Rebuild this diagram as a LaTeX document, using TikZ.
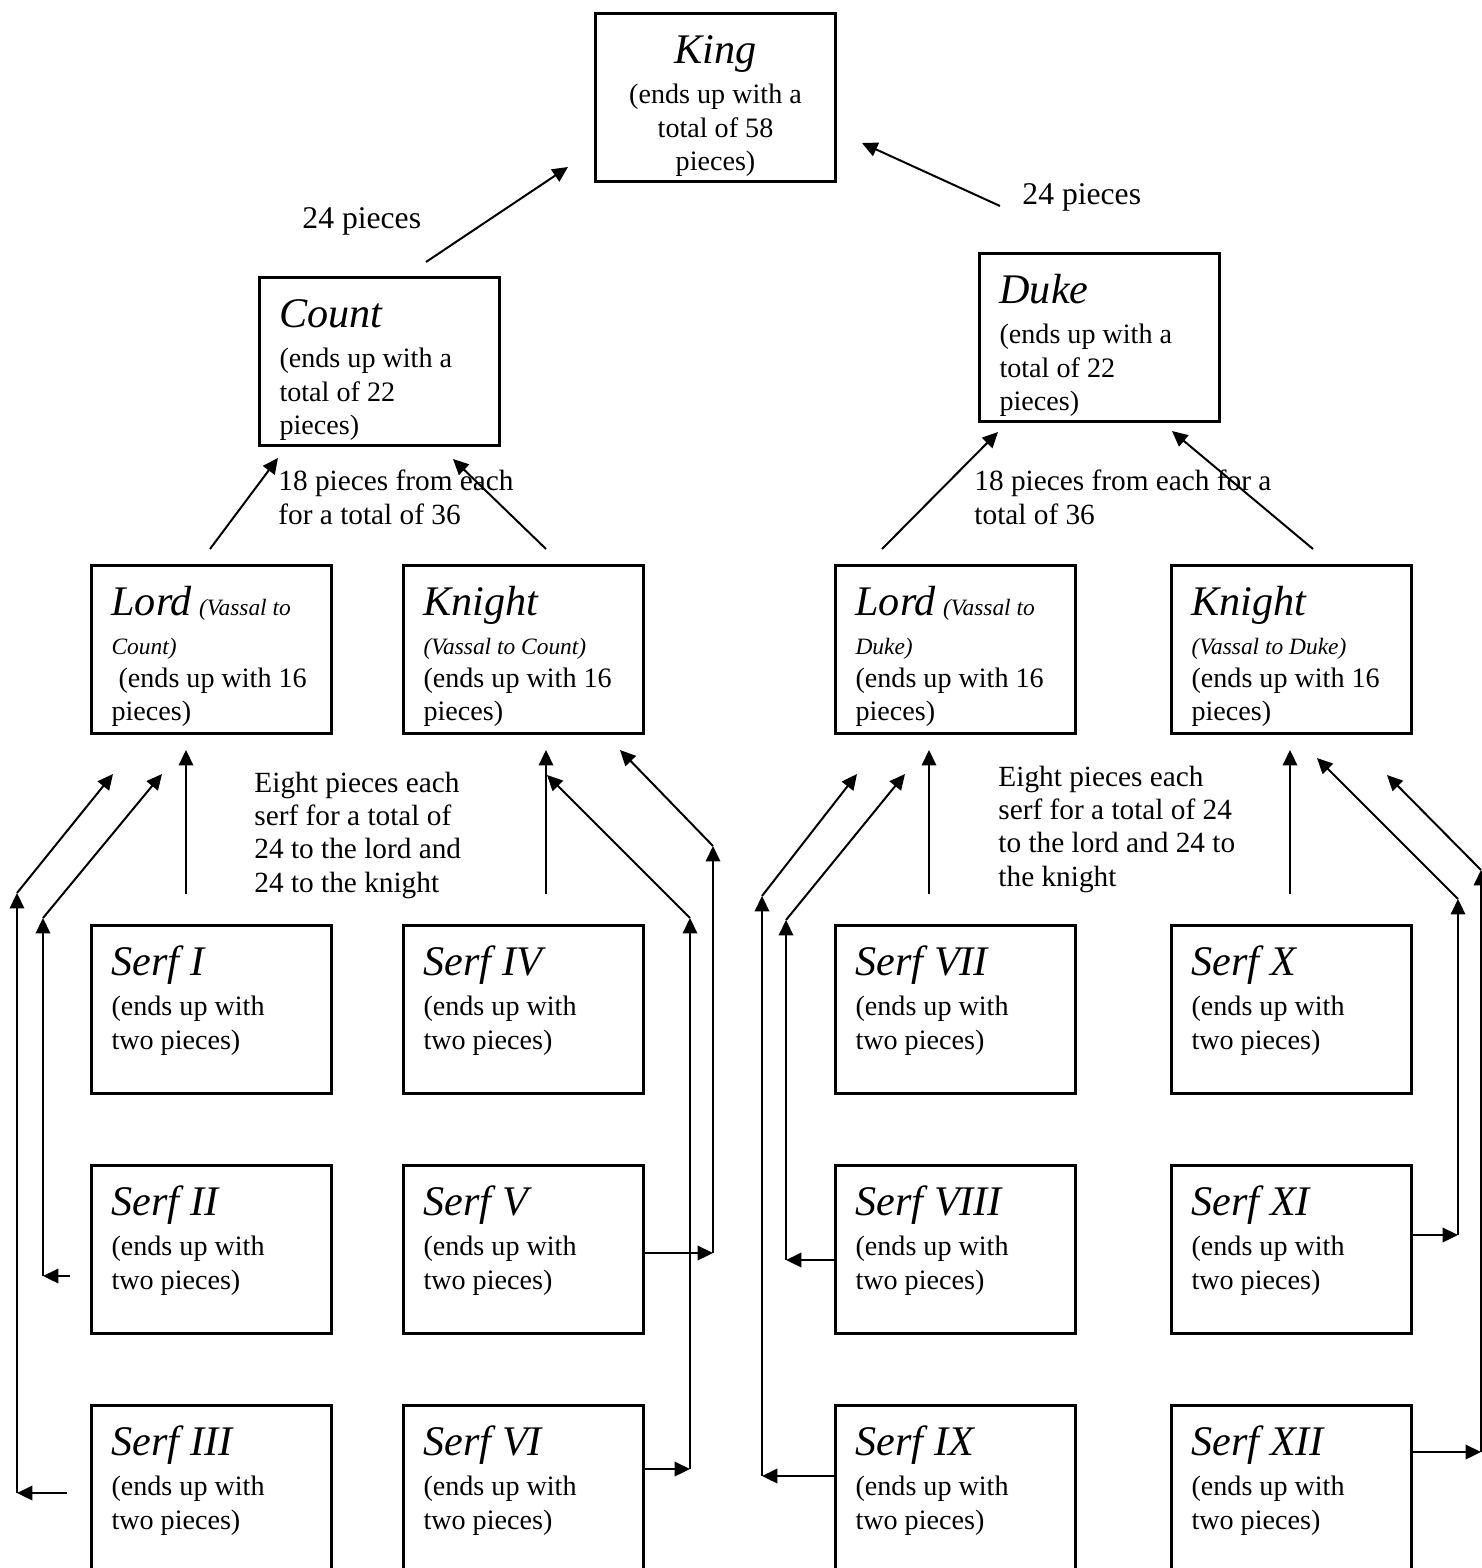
\documentclass[tikz,border=0pt]{standalone}
\usepackage{fontspec}
\setmainfont{Liberation Serif}
\usetikzlibrary{arrows.meta}

\newcommand{\ranktitle}[1]{{\fontsize{18}{20}\selectfont\itshape #1}}
\newcommand{\vassalnote}[1]{{\fontsize{10}{12}\selectfont\itshape #1}}
\newcommand{\boxlines}[1]{\parbox[c][2.52cm][t]{3cm}{\raggedright\rule{0pt}{21.5pt}#1}}
\newcommand{\boxcentre}[1]{\parbox[c][2.52cm][t]{3cm}{\centering\rule{0pt}{21.5pt}#1}}

\begin{document}
\begin{tikzpicture}[x=0.015cm, y=-0.015cm,
                >={Triangle[length=6.6pt,width=6.2pt]},
                box/.style={draw, rectangle, line width=1.3pt, black,
                anchor=north west, inner sep=0pt,
                minimum width=3.6cm, minimum height=2.52cm,
                font=\fontsize{12}{14.1}\selectfont},
                % labels beside the arrows (placed at the last baseline)
                lbl/.style={anchor=base west, align=left, inner sep=0pt,
                font=\fontsize{12.5}{14.2}\selectfont},
                big lbl/.style={lbl, font=\fontsize{13.5}{16}\selectfont},
                link/.style={line width=0.85pt, black, ->}
                ]
\useasboundingbox (0,0) rectangle (1482,1568);

%% Top of the tree
\node (king) [box] at (594,12) {\boxcentre{\ranktitle{King}\\[3pt] (ends up with a\\ total of 58\\ pieces)}};
\node (count) [box] at (258,276) {\boxlines{\ranktitle{Count}\\[3pt] (ends up with a\\ total of 22\\ pieces)}};
\node (duke) [box] at (978,252) {\boxlines{\ranktitle{Duke}\\[3pt] (ends up with a\\ total of 22\\ pieces)}};

%% Vassals
\node (lordc) [box] at (90,564) {\boxlines{\ranktitle{Lord} \vassalnote{(Vassal to}\\[2.5pt] \vassalnote{Count)}\\ \hspace*{3pt}(ends up with 16\\ pieces)}};
\node (knightc) [box] at (402,564) {\boxlines{\ranktitle{Knight}\\[2.5pt] \vassalnote{(Vassal to Count)}\\ (ends up with 16\\ pieces)}};
\node (lordd) [box] at (834,564) {\boxlines{\ranktitle{Lord} \vassalnote{(Vassal to}\\[2.5pt] \vassalnote{Duke)}\\ (ends up with 16\\ pieces)}};
\node (knightd) [box] at (1170,564) {\boxlines{\ranktitle{Knight}\\[2.5pt] \vassalnote{(Vassal to Duke)}\\ (ends up with 16\\ pieces)}};

%% Serfs
\node (serf1) [box] at (90,924) {\boxlines{\ranktitle{Serf I}\\[3pt] (ends up with\\ two pieces)}};
\node (serf2) [box] at (90,1164) {\boxlines{\ranktitle{Serf II}\\[3pt] (ends up with\\ two pieces)}};
\node (serf3) [box] at (90,1404) {\boxlines{\ranktitle{Serf III}\\[3pt] (ends up with\\ two pieces)}};
\node (serf4) [box] at (402,924) {\boxlines{\ranktitle{Serf IV}\\[3pt] (ends up with\\ two pieces)}};
\node (serf5) [box] at (402,1164) {\boxlines{\ranktitle{Serf V}\\[3pt] (ends up with\\ two pieces)}};
\node (serf6) [box] at (402,1404) {\boxlines{\ranktitle{Serf VI}\\[3pt] (ends up with\\ two pieces)}};
\node (serf7) [box] at (834,924) {\boxlines{\ranktitle{Serf VII}\\[3pt] (ends up with\\ two pieces)}};
\node (serf8) [box] at (834,1164) {\boxlines{\ranktitle{Serf VIII}\\[3pt] (ends up with\\ two pieces)}};
\node (serf9) [box] at (834,1404) {\boxlines{\ranktitle{Serf IX}\\[3pt] (ends up with\\ two pieces)}};
\node (serf10) [box] at (1170,924) {\boxlines{\ranktitle{Serf X}\\[3pt] (ends up with\\ two pieces)}};
\node (serf11) [box] at (1170,1164) {\boxlines{\ranktitle{Serf XI}\\[3pt] (ends up with\\ two pieces)}};
\node (serf12) [box] at (1170,1404) {\boxlines{\ranktitle{Serf XII}\\[3pt] (ends up with\\ two pieces)}};

%% Labels
\node (countgift) [big lbl] at (302,228) {24 pieces};
\node (dukegift) [big lbl] at (1022,204) {24 pieces};
\node (countdues) [lbl] at (278,524) {18 pieces from each\\for a total of 36};
\node (dukedues) [lbl] at (974,524) {18 pieces from each for a\\total of 36};
\node (countserfs) [lbl] at (254,892) {Eight pieces each\\serf for a total of\\24 to the lord and\\24 to the knight};
\node (dukeserfs) [lbl] at (998,886) {Eight pieces each\\serf for a total of 24\\to the lord and 24 to\\the knight};

%% End points of the arrows
\coordinate (c1) at (426,262);  \coordinate (k1) at (568,167);
\coordinate (d1) at (1000,206); \coordinate (k2) at (862,143);
\coordinate (lc1) at (210,549); \coordinate (co1) at (278,458);
\coordinate (kc1) at (546,549); \coordinate (co2) at (453,459);
\coordinate (ld1) at (882,549); \coordinate (du1) at (998,432);
\coordinate (kd1) at (1313,549); \coordinate (du2) at (1172,431);

%% Count and Duke to the King
\draw [link](c1)--(k1);
\draw [link](d1)--(k2);

%% Vassals to Count and Duke
\draw [link](lc1)--(co1);
\draw [link](kc1)--(co2);
\draw [link](ld1)--(du1);
\draw [link](kd1)--(du2);

%% Serfs I, IV, VII, X
\coordinate (s1a) at (186,894);  \coordinate (s1b) at (186,750);
\coordinate (s4a) at (546,894);  \coordinate (s4b) at (546,750);
\coordinate (s7a) at (929,894);  \coordinate (s7b) at (929,750);
\coordinate (s10a) at (1290,894); \coordinate (s10b) at (1290,750);
\draw [link](s1a)--(s1b);
\draw [link](s4a)--(s4b);
\draw [link](s7a)--(s7b);
\draw [link](s10a)--(s10b);

%%%% Serf II
\coordinate (s2a) at (70,1276); \coordinate (s2b) at (43,1276);
\coordinate (s2c) at (43,918);  \coordinate (s2d) at (162,774);
\draw [link](s2a)--(s2b);
\draw [link](s2b)--(s2c);
\draw [link](s2c)--(s2d);

%%%% Serf III
\coordinate (s3a) at (67,1493); \coordinate (s3b) at (17,1493);
\coordinate (s3c) at (17,893);  \coordinate (s3d) at (113,774);
\draw [link](s3a)--(s3b);
\draw [link](s3b)--(s3c);
\draw [link](s3c)--(s3d);

%%%% Serf V
\coordinate (s5b) at (713,1253);
\coordinate (s5c) at (713,846); \coordinate (s5d) at (620,750);
\draw [link](serf5.east |- s5b)--(s5b);
\draw [link](s5b)--(s5c);
\draw [link](s5c)--(s5d);

%%%% Serf VI
\coordinate (s6b) at (690,1469);
\coordinate (s6c) at (690,918); \coordinate (s6d) at (547,775);
\draw [link](serf6.east |- s6b)--(s6b);
\draw [link](s6b)--(s6c);
\draw [link](s6c)--(s6d);

%%%% Serf VIII
\coordinate (s8b) at (786,1260);
\coordinate (s8c) at (786,920); \coordinate (s8d) at (905,774);
\draw [link](serf8.west |- s8b)--(s8b);
\draw [link](s8b)--(s8c);
\draw [link](s8c)--(s8d);

%%%% Serf IX
\coordinate (s9b) at (762,1476);
\coordinate (s9c) at (762,896); \coordinate (s9d) at (857,774);
\draw [link](serf9.west |- s9b)--(s9b);
\draw [link](s9b)--(s9c);
\draw [link](s9c)--(s9d);

%%%% Serf XI
\coordinate (s11b) at (1458,1235);
\coordinate (s11c) at (1458,899); \coordinate (s11d) at (1317,758);
\draw [link](serf11.east |- s11b)--(s11b);
\draw [link](s11b)--(s11c);
\draw [link](s11c)--(s11d);

%%%% Serf XII
\coordinate (s12b) at (1481,1452);
\coordinate (s12c) at (1481,870); \coordinate (s12d) at (1387,775);
\draw [link](serf12.east |- s12b)--(s12b);
\draw [link](s12b)--(s12c);
\draw [link](s12c)--(s12d);

\end{tikzpicture}
\end{document}
